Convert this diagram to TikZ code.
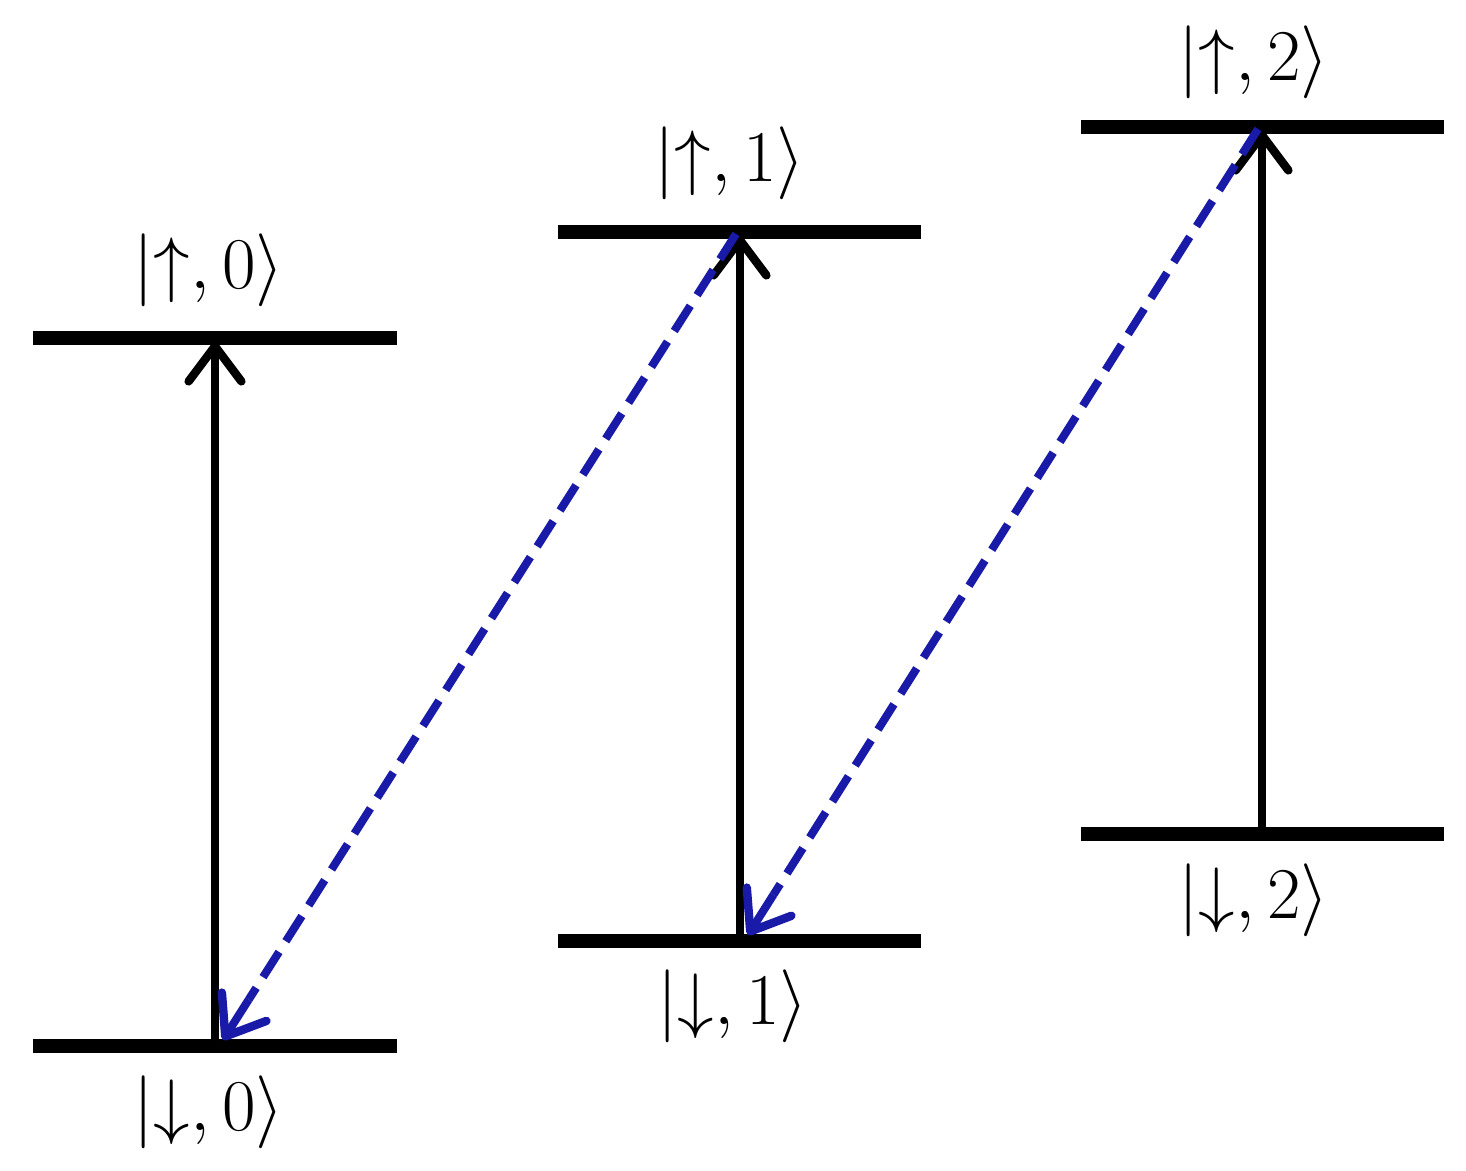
\documentclass[tikz,border=0pt]{standalone}
\usetikzlibrary{arrows.meta,calc}
\begin{document}
\begin{tikzpicture}[x=0.01cm,y=-0.01cm,
  lbl/.style={font=\fontsize{21}{25}\selectfont, inner sep=0pt},
  up/.style={line width=2pt, -{Straight Barb[length=10pt,width=15pt,round,line width=2.4pt]}},
  decay/.style={line width=2.3pt, draw=dblue, dash pattern=on 8.5pt off 3.6pt},
  decaytip/.style={line width=2.3pt, draw=dblue, solid, -{Straight Barb[length=10pt,width=15pt,round,line width=2.4pt]}}]
\definecolor{dblue}{RGB}{26,26,168}
\useasboundingbox (0,0) rectangle (1466,1171);
% levels
\coordinate (u0l) at (33,338);  \coordinate (u0r) at (397,338);
\coordinate (d0l) at (33,1046); \coordinate (d0r) at (397,1046);
\coordinate (u1l) at (558,232); \coordinate (u1r) at (921,232);
\coordinate (d1l) at (558,941); \coordinate (d1r) at (921,941);
\coordinate (u2l) at (1081,127); \coordinate (u2r) at (1444,127);
\coordinate (d2l) at (1081,834); \coordinate (d2r) at (1444,834);
\foreach \a/\b in {u0l/u0r,d0l/d0r,u1l/u1r,d1l/d1r,u2l/u2r,d2l/d2r}
  \draw[line width=4pt] (\a) -- (\b);
% arrow endpoints
\coordinate (a0s) at (215,1046); \coordinate (a0e) at (215,342);
\coordinate (a1s) at (740,941);  \coordinate (a1e) at (740,236);
\coordinate (a2s) at (1262,834); \coordinate (a2e) at (1262,131);
\draw[up] (a0s) -- (a0e);
\draw[up] (a1s) -- (a1e);
\draw[up] (a2s) -- (a2e);
\coordinate (b1s) at (736,234); \coordinate (b1e) at (223,1040);
\coordinate (b2s) at (1258,129); \coordinate (b2e) at (748,935);
\draw[decay] (b1s) -- ($(b1e)!0.05!(b1s)$);
\draw[decaytip] ($(b1e)!0.05!(b1s)$) -- (b1e);
\draw[decay] (b2s) -- ($(b2e)!0.05!(b2s)$);
\draw[decaytip] ($(b2e)!0.05!(b2s)$) -- (b2e);
% labels
\node[lbl] (lu0) at (209,270) {$|{\uparrow},0\rangle$};
\node[lbl] (ld0) at (209,1112) {$|{\downarrow},0\rangle$};
\node[lbl] (lu1) at (730,163) {$|{\uparrow},1\rangle$};
\node[lbl] (ld1) at (733,1006) {$|{\downarrow},1\rangle$};
\node[lbl] (lu2) at (1254,62) {$|{\uparrow},2\rangle$};
\node[lbl] (ld2) at (1254,900) {$|{\downarrow},2\rangle$};
\end{tikzpicture}
\end{document}
